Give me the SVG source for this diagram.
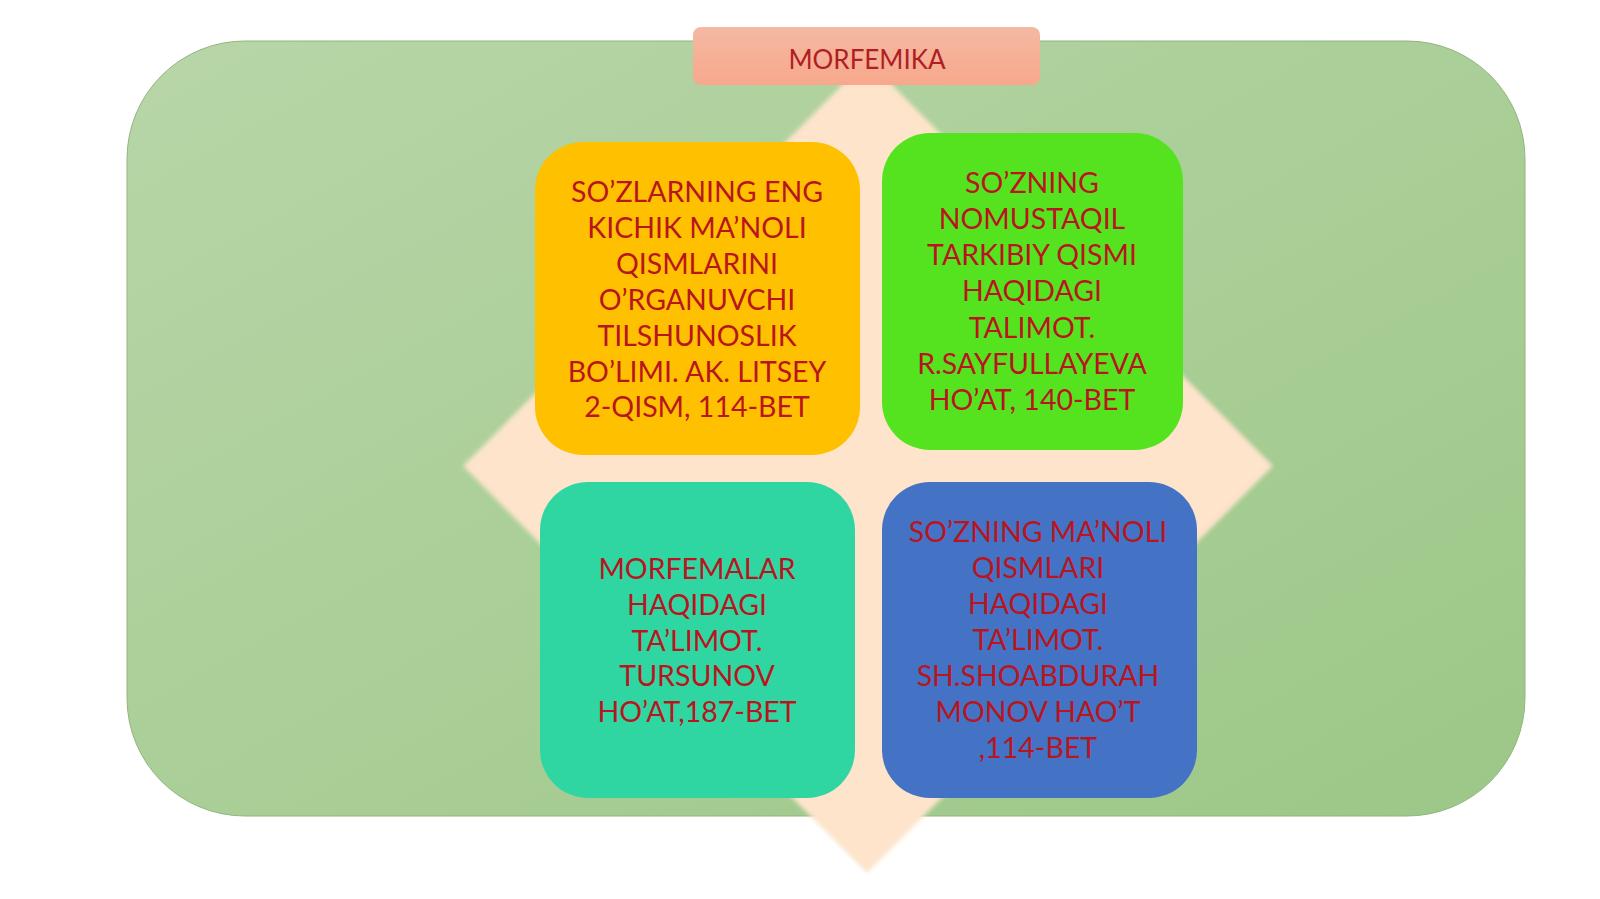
<svg xmlns="http://www.w3.org/2000/svg" width="1600" height="899" viewBox="0 0 1600 899">
  <defs>
    <linearGradient id="bgGrad" x1="0" y1="0" x2="1" y2="1">
      <stop offset="0" stop-color="#B8D6A8"/>
      <stop offset="1" stop-color="#9CC787"/>
    </linearGradient>
    <linearGradient id="titleGrad" x1="0" y1="0" x2="0" y2="1">
      <stop offset="0" stop-color="#F3B9A2"/>
      <stop offset="1" stop-color="#F8A88C"/>
    </linearGradient>
    <filter id="soft" x="-5%" y="-5%" width="110%" height="110%">
      <feGaussianBlur stdDeviation="2"/>
    </filter>
  </defs>
  <style>
    .lbl { font-family: "Lato", "Liberation Sans", sans-serif; font-size: 28.5px; fill: #B8151F; text-anchor: middle; }
    .title { font-family: "Lato", "Liberation Sans", sans-serif; font-size: 26px; fill: #B01E24; text-anchor: middle; }
  </style>
  <rect x="0" y="0" width="1600" height="899" fill="#FFFFFF"/>

  <g id="background">
    <rect x="127" y="41" width="1398" height="775" rx="118" ry="118" fill="url(#bgGrad)" stroke="#93B47F" stroke-width="1"/>
  </g>

  <g id="diamond">
    <polygon points="867,60 1273,466 867,873 463,466" fill="#FDE4CB" filter="url(#soft)"/>
  </g>

  <g id="title">
    <rect x="693" y="27" width="347" height="58" rx="8" ry="8" fill="url(#titleGrad)"/>
    <text class="title" x="867" y="69">MORFEMIKA</text>
  </g>

  <g id="connectors"></g>

  <g id="node-yellow">
    <rect x="535" y="142" width="325" height="313" rx="48" ry="48" fill="#FFC000"/>
    <text class="lbl" x="697" y="202">SO’ZLARNING ENG</text>
    <text class="lbl" x="697" y="238">KICHIK MA’NOLI</text>
    <text class="lbl" x="697" y="274">QISMLARINI</text>
    <text class="lbl" x="697" y="310">O’RGANUVCHI</text>
    <text class="lbl" x="697" y="346">TILSHUNOSLIK</text>
    <text class="lbl" x="697" y="382">BO’LIMI. AK. LITSEY</text>
    <text class="lbl" x="697" y="417">2-QISM, 114-BET</text>
  </g>

  <g id="node-green">
    <rect x="882" y="133" width="301" height="317" rx="48" ry="48" fill="#56E31F"/>
    <text class="lbl" x="1032" y="193">SO’ZNING</text>
    <text class="lbl" x="1032" y="229">NOMUSTAQIL</text>
    <text class="lbl" x="1032" y="265">TARKIBIY QISMI</text>
    <text class="lbl" x="1032" y="301">HAQIDAGI</text>
    <text class="lbl" x="1032" y="338">TALIMOT.</text>
    <text class="lbl" x="1032" y="374">R.SAYFULLAYEVA</text>
    <text class="lbl" x="1032" y="410">HO’AT, 140-BET</text>
  </g>

  <g id="node-teal">
    <rect x="540" y="482" width="315" height="316" rx="48" ry="48" fill="#30D6A2"/>
    <text class="lbl" x="697" y="579">MORFEMALAR</text>
    <text class="lbl" x="697" y="615">HAQIDAGI</text>
    <text class="lbl" x="697" y="651">TA’LIMOT.</text>
    <text class="lbl" x="697" y="686">TURSUNOV</text>
    <text class="lbl" x="697" y="722">HO’AT,187-BET</text>
  </g>

  <g id="node-blue">
    <rect x="882" y="482" width="315" height="316" rx="48" ry="48" fill="#4472C4"/>
    <text class="lbl" x="1038" y="542" fill="#C8102E">SO’ZNING MA’NOLI</text>
    <text class="lbl" x="1038" y="578">QISMLARI</text>
    <text class="lbl" x="1038" y="614">HAQIDAGI</text>
    <text class="lbl" x="1038" y="650">TA’LIMOT.</text>
    <text class="lbl" x="1038" y="686">SH.SHOABDURAH</text>
    <text class="lbl" x="1038" y="722">MONOV HAO’T</text>
    <text class="lbl" x="1038" y="758">,114-BET</text>
  </g>
</svg>
